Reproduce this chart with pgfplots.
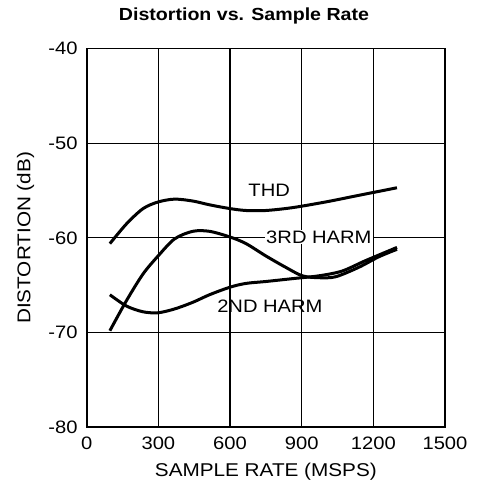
\documentclass[border=0pt]{standalone}
\usepackage{fontspec}
\setmainfont{Liberation Sans}[FakeStretch=1.12]
\usepackage{pgfplots}
\pgfplotsset{compat=1.18}
\begin{document}
\fontsize{18}{21}\selectfont
\begin{tikzpicture}[x=1pt,y=1pt]
\useasboundingbox (-86.7,-69.7) rectangle (393.3,427.3);
\begin{axis}[
  scale only axis,
  width=358.3pt, height=378.7pt,
  xmin=0, xmax=1500, ymin=-80, ymax=-40,
  xtick={0,300,600,900,1200,1500},
  ytick={-80,-70,-60,-50,-40},
  grid=major,
  major grid style={black, line width=1.1pt},
  major tick length=0pt,
  axis line style={black, line width=1.7pt},
  /pgf/number format/assume math mode=true,
  /pgf/number format/set thousands separator={},
  tick label style={font=\fontsize{18}{21}\selectfont},
  xticklabel style={yshift=-3pt},
  yticklabel style={xshift=-3pt},
  xlabel={SAMPLE RATE (MSPS)},
  ylabel={DISTORTION (dB)},
  label style={font=\fontsize{18.5}{21}\selectfont},
  xlabel style={yshift=-2pt},
  ylabel style={yshift=2pt},
  clip=false,
]
\addplot[black, line width=3pt, smooth] coordinates {
(97,-60.6) (167,-58.5) (236,-56.9) (299,-56.2) (368,-55.9) (444,-56.1) (514,-56.5) (600,-56.9) (667,-57.1) (750,-57.1) (861,-56.8) (1000,-56.2) (1139,-55.5) (1299,-54.7)};
\addplot[black, line width=3pt, smooth] coordinates {
(97,-69.8) (167,-66.6) (236,-63.8) (299,-61.9) (368,-60.1) (444,-59.3) (514,-59.3) (600,-59.9) (667,-60.6) (750,-61.9) (833,-63.1) (903,-64.0) (972,-64.2) (1042,-64.1) (1139,-63.1) (1222,-62.0) (1299,-61.2)};
\addplot[black, line width=3pt, smooth] coordinates {
(97,-66.0) (167,-67.2) (236,-67.8) (299,-67.9) (368,-67.5) (444,-66.8) (514,-66.0) (600,-65.2) (667,-64.8) (750,-64.6) (861,-64.3) (972,-64.0) (1069,-63.5) (1167,-62.4) (1299,-61.0)};
\node[font=\fontsize{18}{21}\selectfont] at (axis cs:764,-55.0) {THD};
\node[font=\fontsize{18}{21}\selectfont, fill=white, inner sep=1pt] at (axis cs:972,-59.9) {3RD HARM};
\node[font=\fontsize{18}{21}\selectfont] at (axis cs:767,-67.2) {2ND HARM};
\node[font=\fontsize{17.5}{20}\bfseries] at (rel axis cs:0.439,1.086) {Distortion vs. Sample Rate};
\end{axis}
\end{tikzpicture}
\end{document}
